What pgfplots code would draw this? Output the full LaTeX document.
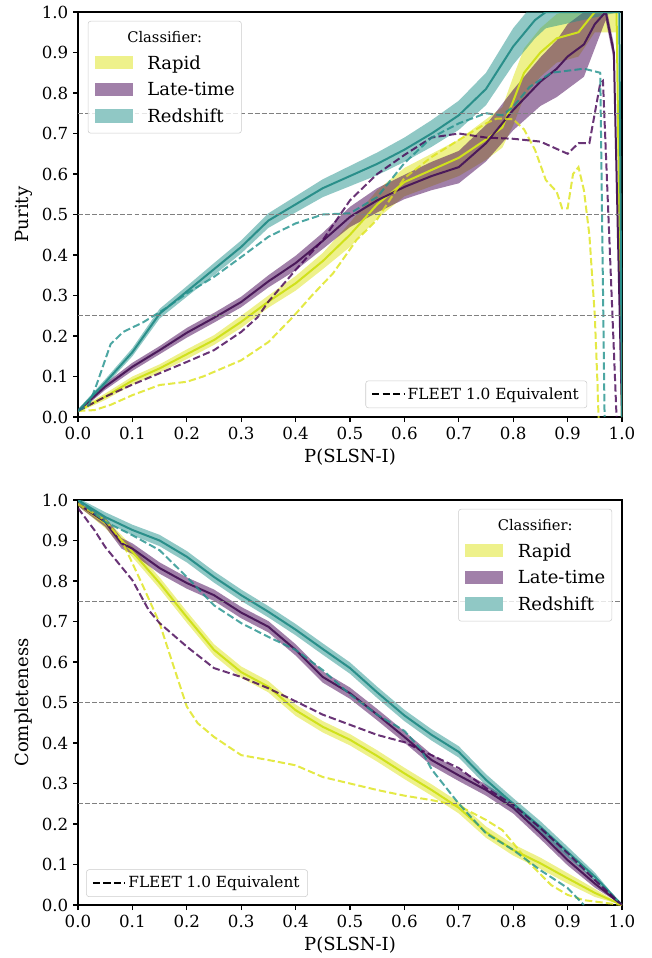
\documentclass[border=0pt]{standalone}
\usepackage{fontspec}
\setmainfont{DejaVu Serif}
\usepackage{pgfplots}
\usepackage{pgfplotstable}
\pgfplotsset{compat=1.18}
\usepgfplotslibrary{fillbetween}

\definecolor{rapid}{HTML}{DDE318}
\definecolor{rapidline}{HTML}{D0E11C}
\definecolor{late}{HTML}{440154}
\definecolor{lateline}{HTML}{4B1A5A}
\definecolor{redsh}{HTML}{21918C}
\definecolor{redline}{HTML}{2A8F8A}
\definecolor{rapidpatch}{HTML}{EEF18B}
\definecolor{latepatch}{HTML}{A180A9}
\definecolor{redpatch}{HTML}{90C8C5}
\definecolor{legframe}{HTML}{CCCCCC}

% ---- purity, solid curves: x, y, half width of band
\pgfplotstableread{
x y e
0 0.015 0.004
0.05 0.05 0.008
0.1 0.09 0.01
0.15 0.12 0.01
0.2 0.155 0.012
0.25 0.19 0.012
0.3 0.235 0.015
0.35 0.285 0.015
0.4 0.33 0.018
0.45 0.385 0.02
0.5 0.45 0.03
0.55 0.525 0.035
0.6 0.58 0.035
0.65 0.61 0.04
0.7 0.64 0.045
0.75 0.685 0.05
0.78 0.715 0.05
0.8 0.78 0.06
0.82 0.85 0.06
0.85 0.9 0.06
0.88 0.935 0.06
0.92 0.95 0.06
0.95 1.0 0.05
0.99 1.0 0.05
1.0 0.0 0.0
}\purRapid
\pgfplotstableread{
x y e
0 0.015 0.004
0.05 0.075 0.008
0.1 0.124 0.01
0.15 0.165 0.01
0.2 0.208 0.012
0.25 0.245 0.012
0.3 0.284 0.013
0.35 0.335 0.015
0.4 0.38 0.018
0.45 0.435 0.02
0.5 0.494 0.025
0.55 0.535 0.03
0.6 0.568 0.03
0.65 0.595 0.035
0.7 0.617 0.04
0.75 0.676 0.045
0.8 0.758 0.05
0.85 0.828 0.06
0.88 0.86 0.07
0.9 0.89 0.08
0.93 0.92 0.08
0.95 0.97 0.06
0.97 1.0 0.02
0.985 0.9 0.02
1.0 0.0 0.0
}\purLate
\pgfplotstableread{
x y e
0 0.015 0.004
0.05 0.085 0.008
0.1 0.16 0.01
0.15 0.255 0.012
0.2 0.31 0.013
0.25 0.365 0.015
0.3 0.42 0.016
0.35 0.485 0.018
0.4 0.525 0.02
0.45 0.565 0.022
0.5 0.595 0.025
0.55 0.625 0.028
0.6 0.66 0.03
0.65 0.70 0.033
0.7 0.745 0.036
0.75 0.81 0.04
0.8 0.915 0.045
0.84 0.98 0.045
0.86 1.0 0.04
0.995 1.0 0.0
1.0 0.0 0.0
}\purRed

% ---- completeness, solid curves
\pgfplotstableread{
x y e
0 0.99 0.005
0.05 0.943 0.012
0.1 0.872 0.013
0.15 0.795 0.014
0.2 0.711 0.014
0.25 0.63 0.014
0.3 0.575 0.014
0.35 0.539 0.014
0.4 0.481 0.014
0.45 0.44 0.014
0.5 0.408 0.014
0.55 0.368 0.014
0.6 0.325 0.014
0.65 0.284 0.014
0.7 0.24 0.014
0.75 0.18 0.014
0.8 0.136 0.014
0.85 0.103 0.014
0.9 0.066 0.013
0.95 0.03 0.01
1.0 0.0 0.0
}\comRapid
\pgfplotstableread{
x y e
0 0.99 0.005
0.05 0.946 0.012
0.08 0.893 0.013
0.1 0.88 0.013
0.15 0.832 0.014
0.2 0.795 0.014
0.25 0.765 0.014
0.3 0.722 0.014
0.35 0.687 0.014
0.4 0.63 0.014
0.45 0.563 0.014
0.5 0.523 0.014
0.55 0.47 0.014
0.6 0.415 0.014
0.65 0.358 0.014
0.7 0.32 0.014
0.75 0.284 0.014
0.8 0.24 0.014
0.85 0.177 0.014
0.9 0.111 0.013
0.95 0.053 0.01
1.0 0.0 0.0
}\comLate
\pgfplotstableread{
x y e
0 1.0 0.005
0.05 0.958 0.012
0.1 0.926 0.013
0.15 0.9 0.014
0.2 0.86 0.014
0.25 0.81 0.014
0.3 0.765 0.014
0.35 0.724 0.014
0.4 0.68 0.014
0.45 0.632 0.014
0.5 0.585 0.014
0.55 0.525 0.014
0.6 0.468 0.014
0.65 0.42 0.014
0.7 0.378 0.014
0.75 0.309 0.014
0.8 0.25 0.014
0.85 0.193 0.014
0.9 0.131 0.013
0.95 0.07 0.01
1.0 0.0 0.0
}\comRed

\pgfplotsset{
  every axis/.append style={
    scale only axis, width=408pt, height=303.75pt,
    xmin=0, xmax=1, ymin=0, ymax=1,
    xtick distance=0.1, ytick distance=0.1,
    tick pos=left, tick align=outside,
    major tick length=3.75pt,
    axis line style={line width=0.8pt},
    every tick/.style={black, line width=0.8pt},
    tick label style={font=\fontsize{12.5}{14}\selectfont},
    label style={font=\fontsize{13.5}{16}\selectfont},
    /pgf/number format/assume math mode=true,
    /pgf/number format/fixed, /pgf/number format/fixed zerofill,
    /pgf/number format/precision=1,
    xlabel={P(SLSN-I)},
    legend cell align=left,
    legend style={font=\fontsize{11.5}{13}\selectfont, draw=legframe,
      rounded corners=2pt, fill=white, fill opacity=0.8, text opacity=1,
      inner xsep=4pt, inner ysep=3pt},
    legend image code/.code={\draw[#1] (0pt,0pt) -- (24pt,0pt);},
  },
  band/.style={draw=none, forget plot},
  mean/.style={line width=1.5pt, forget plot},
  fleet/.style={line width=1.5pt, dash pattern=on 5.5pt off 2.4pt, draw opacity=0.8, forget plot},
  hline/.style={gray, line width=1pt, dash pattern=on 3.7pt off 1.6pt, forget plot},
}

\newcommand{\classlegend}{%
  \fontsize{13.5}{20}\selectfont
  \begin{tabular}{@{\hspace{5pt}}l@{\hspace{11pt}}l@{\hspace{5pt}}}
  \multicolumn{2}{c}{\fontsize{11}{13}\selectfont Classifier:}\\
  \textcolor{rapidpatch}{\rule{28.5pt}{9.8pt}} & Rapid\\
  \textcolor{latepatch}{\rule{28.5pt}{9.8pt}} & Late-time\\
  \textcolor{redpatch}{\rule{28.5pt}{9.8pt}} & Redshift
  \end{tabular}}

\begin{document}
\begin{tikzpicture}

% ================= purity
\begin{axis}[at={(58.5pt,-9pt)}, anchor=north west, ylabel={Purity},
  legend style={at={(0.936,0.022)}, anchor=south east}]
\addplot[band, name path=ru] table[x=x, y expr=\thisrow{y}+\thisrow{e}] {\purRapid};
\addplot[band, name path=rl] table[x=x, y expr=\thisrow{y}-\thisrow{e}] {\purRapid};
\addplot[fill=rapid, fill opacity=0.5, forget plot] fill between[of=ru and rl];
\addplot[band, name path=lu] table[x=x, y expr=\thisrow{y}+\thisrow{e}] {\purLate};
\addplot[band, name path=ll] table[x=x, y expr=\thisrow{y}-\thisrow{e}] {\purLate};
\addplot[fill=late, fill opacity=0.5, forget plot] fill between[of=lu and ll];
\addplot[band, name path=zu] table[x=x, y expr=\thisrow{y}+\thisrow{e}] {\purRed};
\addplot[band, name path=zl] table[x=x, y expr=\thisrow{y}-\thisrow{e}] {\purRed};
\addplot[fill=redsh, fill opacity=0.5, forget plot] fill between[of=zu and zl];

\addplot[mean, rapidline] table[x=x, y=y] {\purRapid};
\addplot[mean, lateline] table[x=x, y=y] {\purLate};
\addplot[mean, redline] table[x=x, y=y] {\purRed};

% FLEET 1.0 equivalents
\addplot[fleet, rapid] coordinates {(0,0.015)(0.03,0.017)(0.06,0.03)(0.1,0.054)(0.15,0.079)(0.2,0.087)(0.23,0.10)(0.3,0.14)(0.35,0.185)(0.395,0.247)(0.43,0.30)(0.469,0.355)(0.512,0.437)(0.549,0.486)(0.573,0.536)(0.6,0.59)(0.65,0.642)(0.7,0.684)(0.75,0.725)(0.77,0.737)(0.8,0.735)(0.82,0.71)(0.84,0.66)(0.86,0.585)(0.88,0.556)(0.89,0.515)(0.9,0.515)(0.91,0.60)(0.92,0.617)(0.93,0.56)(0.94,0.45)(0.95,0.25)(0.955,0.08)(0.958,-0.05)};
\addplot[fleet, late] coordinates {(0,0.015)(0.05,0.05)(0.1,0.08)(0.15,0.108)(0.2,0.136)(0.25,0.165)(0.3,0.21)(0.33,0.246)(0.35,0.285)(0.4,0.363)(0.45,0.437)(0.5,0.535)(0.55,0.6)(0.6,0.647)(0.65,0.69)(0.7,0.70)(0.75,0.69)(0.8,0.687)(0.85,0.68)(0.9,0.65)(0.92,0.676)(0.94,0.676)(0.96,0.824)(0.965,0.83)(0.99,0.0)};
\addplot[fleet, redsh] coordinates {(0,0.015)(0.02,0.03)(0.035,0.083)(0.06,0.18)(0.083,0.21)(0.12,0.234)(0.163,0.27)(0.2,0.305)(0.25,0.346)(0.3,0.395)(0.35,0.445)(0.4,0.478)(0.45,0.50)(0.5,0.503)(0.55,0.543)(0.6,0.627)(0.65,0.69)(0.7,0.725)(0.75,0.75)(0.78,0.745)(0.8,0.766)(0.83,0.815)(0.87,0.85)(0.9,0.855)(0.93,0.86)(0.96,0.85)(0.968,0.0)};

\addplot[hline] coordinates {(0,0.25)(1,0.25)};
\addplot[hline] coordinates {(0,0.5)(1,0.5)};
\addplot[hline] coordinates {(0,0.75)(1,0.75)};

\addlegendimage{black, line width=1.5pt, dash pattern=on 5.5pt off 2.4pt}
\addlegendentry{FLEET 1.0 Equivalent}

\node[draw=legframe, rounded corners=2pt, fill=white, fill opacity=0.8, text opacity=1,
  inner sep=0pt, inner ysep=2pt, anchor=north west] at (axis description cs:0.018,0.978) {\classlegend};
\end{axis}

% ================= completeness
\begin{axis}[at={(58.5pt,-375pt)}, anchor=north west, ylabel={Completeness},
  legend style={at={(0.015,0.02)}, anchor=south west}]
\addplot[band, name path=ru] table[x=x, y expr=\thisrow{y}+\thisrow{e}] {\comRapid};
\addplot[band, name path=rl] table[x=x, y expr=\thisrow{y}-\thisrow{e}] {\comRapid};
\addplot[fill=rapid, fill opacity=0.5, forget plot] fill between[of=ru and rl];
\addplot[band, name path=lu] table[x=x, y expr=\thisrow{y}+\thisrow{e}] {\comLate};
\addplot[band, name path=ll] table[x=x, y expr=\thisrow{y}-\thisrow{e}] {\comLate};
\addplot[fill=late, fill opacity=0.5, forget plot] fill between[of=lu and ll];
\addplot[band, name path=zu] table[x=x, y expr=\thisrow{y}+\thisrow{e}] {\comRed};
\addplot[band, name path=zl] table[x=x, y expr=\thisrow{y}-\thisrow{e}] {\comRed};
\addplot[fill=redsh, fill opacity=0.5, forget plot] fill between[of=zu and zl];

\addplot[mean, rapidline] table[x=x, y=y] {\comRapid};
\addplot[mean, lateline] table[x=x, y=y] {\comLate};
\addplot[mean, redline] table[x=x, y=y] {\comRed};

\addplot[fleet, rapid] coordinates {(0,0.99)(0.05,0.95)(0.08,0.9)(0.1,0.844)(0.12,0.786)(0.15,0.696)(0.17,0.613)(0.2,0.49)(0.22,0.449)(0.25,0.415)(0.28,0.388)(0.3,0.37)(0.35,0.358)(0.4,0.345)(0.45,0.316)(0.5,0.3)(0.55,0.284)(0.6,0.27)(0.65,0.259)(0.7,0.245)(0.75,0.21)(0.78,0.185)(0.8,0.153)(0.83,0.103)(0.87,0.049)(0.9,0.025)(0.93,0.012)(1,0)};
\addplot[fleet, late] coordinates {(0,0.98)(0.03,0.926)(0.05,0.884)(0.1,0.802)(0.13,0.728)(0.15,0.696)(0.2,0.638)(0.25,0.585)(0.3,0.563)(0.35,0.535)(0.4,0.503)(0.45,0.47)(0.5,0.445)(0.55,0.42)(0.6,0.402)(0.65,0.37)(0.7,0.338)(0.75,0.289)(0.8,0.247)(0.85,0.19)(0.9,0.128)(0.95,0.062)(1,0)};
\addplot[fleet, redsh] coordinates {(0,1.0)(0.05,0.946)(0.1,0.913)(0.15,0.876)(0.2,0.81)(0.25,0.74)(0.3,0.696)(0.35,0.662)(0.4,0.63)(0.45,0.58)(0.5,0.52)(0.55,0.47)(0.6,0.43)(0.63,0.385)(0.65,0.335)(0.7,0.25)(0.75,0.177)(0.8,0.136)(0.85,0.086)(0.9,0.042)(0.93,0.0)};

\addplot[hline] coordinates {(0,0.25)(1,0.25)};
\addplot[hline] coordinates {(0,0.5)(1,0.5)};
\addplot[hline] coordinates {(0,0.75)(1,0.75)};

\addlegendimage{black, line width=1.5pt, dash pattern=on 5.5pt off 2.4pt}
\addlegendentry{FLEET 1.0 Equivalent}

\node[draw=legframe, rounded corners=2pt, fill=white, fill opacity=0.8, text opacity=1,
  inner sep=0pt, inner ysep=2pt, anchor=north west] at (axis description cs:0.699,0.978) {\classlegend};
\end{axis}

\path[use as bounding box] (0,0) rectangle (488.25pt,-718.5pt);
\end{tikzpicture}
\end{document}
